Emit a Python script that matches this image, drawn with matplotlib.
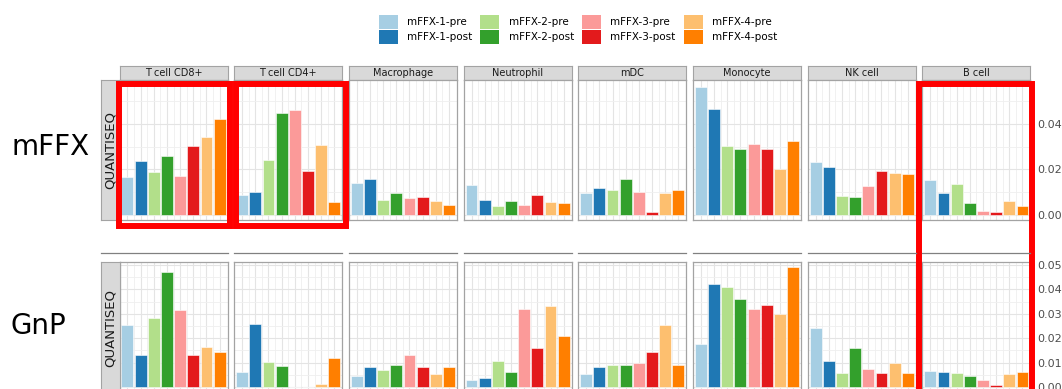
import numpy as np
import matplotlib
matplotlib.use("Agg")
import matplotlib.pyplot as plt
from matplotlib.patches import Rectangle, Patch
from matplotlib.lines import Line2D
from matplotlib.ticker import FormatStrFormatter

# Zelltypen und Gruppen
cell_types = ["T cell CD8+", "T cell CD4+", "Macrophage", "Neutrophil",
              "mDC", "Monocyte", "NK cell", "B cell"]
groups = ["mFFX-1-pre", "mFFX-1-post", "mFFX-2-pre", "mFFX-2-post",
          "mFFX-3-pre", "mFFX-3-post", "mFFX-4-pre", "mFFX-4-post"]
colors = ["#a6cee3", "#1f78b4", "#b2df8a", "#33a02c",
          "#fb9a99", "#e31a1c", "#fdbf6f", "#ff7f00"]

# QUANTISEQ-Anteile, eine Zeile pro Zelltyp (Reihenfolge wie groups)
mffx_values = [
    [0.0166, 0.0236, 0.0190, 0.0261, 0.0171, 0.0302, 0.0343, 0.0421],
    [0.0089, 0.0101, 0.0242, 0.0447, 0.0463, 0.0192, 0.0306, 0.0056],
    [0.0139, 0.0158, 0.0066, 0.0095, 0.0076, 0.0078, 0.0063, 0.0044],
    [0.0133, 0.0067, 0.0038, 0.0063, 0.0044, 0.0089, 0.0056, 0.0051],
    [0.0095, 0.0117, 0.0111, 0.0158, 0.0101, 0.0013, 0.0095, 0.0108],
    [0.0564, 0.0466, 0.0302, 0.0289, 0.0312, 0.0289, 0.0204, 0.0325],
    [0.0233, 0.0210, 0.0084, 0.0078, 0.0126, 0.0192, 0.0185, 0.0179],
    [0.0152, 0.0095, 0.0136, 0.0051, 0.0019, 0.0013, 0.0063, 0.0040],
]
gnp_values = [
    [0.0253, 0.0130, 0.0283, 0.0473, 0.0316, 0.0130, 0.0164, 0.0142],
    [0.0063, 0.0257, 0.0101, 0.0086, 0.0000, 0.0000, 0.0012, 0.0120],
    [0.0046, 0.0081, 0.0068, 0.0091, 0.0130, 0.0081, 0.0053, 0.0081],
    [0.0029, 0.0037, 0.0108, 0.0063, 0.0321, 0.0161, 0.0332, 0.0209],
    [0.0053, 0.0081, 0.0090, 0.0090, 0.0097, 0.0142, 0.0253, 0.0090],
    [0.0175, 0.0421, 0.0410, 0.0362, 0.0318, 0.0337, 0.0298, 0.0490],
    [0.0242, 0.0107, 0.0056, 0.0159, 0.0074, 0.0056, 0.0097, 0.0056],
    [0.0067, 0.0063, 0.0056, 0.0046, 0.0029, 0.0008, 0.0052, 0.0063],
]

W, H = 1062, 389
fig = plt.figure(figsize=(W / 100, H / 100), dpi=100)
fig.patch.set_facecolor("white")


def box(x0, y0, x1, y1):
    # Pixelkoordinaten (oben links) -> Figure-Anteile
    return [x0 / W, 1 - y1 / H, (x1 - x0) / W, (y1 - y0) / H]


border = "#a3a3a3"
strip_bg = "#d9d9d9"
pitch, pw = 114.7, 108.0
x_first = 119.5


def strip(rect, label, rotation=0, size=7):
    s = fig.add_axes(rect)
    s.set_facecolor(strip_bg)
    s.set_xticks([])
    s.set_yticks([])
    for sp in s.spines.values():
        sp.set_color(border)
        sp.set_linewidth(0.8)
    s.text(0.5, 0.5, label, ha="center", va="center", rotation=rotation,
           fontsize=size, color="#1a1a1a", transform=s.transAxes)
    return s


def panel(rect, vals, ylim, major, minor, last):
    ax = fig.add_axes(rect)
    x = np.arange(1, len(vals) + 1)
    ax.bar(x, vals, width=0.9, color=colors, edgecolor="white", linewidth=0.4)
    ax.set_xlim(0.4, 8.6)
    ax.set_ylim(*ylim)
    ax.set_xticks(x)
    ax.set_xticks(x[:-1] + 0.5, minor=True)
    ax.set_yticks(major)
    ax.set_yticks(minor, minor=True)
    ax.set_axisbelow(True)
    ax.grid(which="major", color="#e4e4e4", linewidth=0.8)
    ax.grid(which="minor", color="#efefef", linewidth=0.6)
    ax.tick_params(which="both", length=0, labelbottom=False, labelleft=False)
    for sp in ax.spines.values():
        sp.set_color(border)
        sp.set_linewidth(0.9)
    if last:
        ax.yaxis.tick_right()
        ax.yaxis.set_major_formatter(FormatStrFormatter("%.2f"))
        ax.tick_params(axis="y", which="major", length=3, width=0.7,
                       color="#333333", labelright=True, labelsize=8,
                       labelcolor="#4d4d4d", pad=2)
    return ax


# obere Reihe: mFFX
top_major = [0.0, 0.02, 0.04]
top_minor = [0.01, 0.03, 0.05]
for i, name in enumerate(cell_types):
    x0 = x_first + i * pitch
    strip(box(x0, 66, x0 + pw, 80), name)
    panel(box(x0, 80, x0 + pw, 220), mffx_values[i], (-0.0022, 0.0593),
          top_major, top_minor, i == len(cell_types) - 1)
strip(box(101, 80, x_first, 220), "QUANTISEQ", rotation=90, size=9.5)

# untere Reihe: GnP
bot_major = np.arange(0, 0.051, 0.01)
bot_minor = np.arange(0.005, 0.05, 0.01)
for i, name in enumerate(cell_types):
    x0 = x_first + i * pitch
    lx0 = 101 if i == 0 else x0
    fig.add_artist(Line2D([lx0 / W, (x0 + pw) / W], [1 - 253 / H] * 2,
                          color="#808080", linewidth=0.9))
    panel(box(x0, 262, x0 + pw, 393), gnp_values[i], (-0.0025, 0.0512),
          bot_major, bot_minor, i == len(cell_types) - 1)
strip(box(101, 262, x_first, 393), "QUANTISEQ", rotation=90, size=9.5)

# Zeilenbeschriftungen
fig.text(12 / W, 1 - 147 / H, "mFFX", fontsize=20, va="center", ha="left")
fig.text(10.5 / W, 1 - 326 / H, "GnP", fontsize=20, va="center", ha="left")

# Legende
handles = [Patch(facecolor=c, edgecolor="none") for c in colors]
fig.legend(handles, groups, ncol=4, loc="center",
           bbox_to_anchor=(578 / W, 1 - 29.5 / H), frameon=False,
           fontsize=7.5, handlelength=1.8, handleheight=1.6,
           labelspacing=0.15, handletextpad=0.9, columnspacing=0.8,
           borderpad=0)

# rote Markierungen
marks = [(119, 83.5, 229.5, 226), (236, 83.5, 346, 226), (919, 83.7, 1031.5, 420)]
for x0, y0, x1, y1 in marks:
    fig.add_artist(Rectangle((x0 / W, 1 - y1 / H), (x1 - x0) / W, (y1 - y0) / H,
                             transform=fig.transFigure, fill=False,
                             edgecolor="#ff0000", linewidth=4.3, clip_on=False))

fig.savefig("out.png", dpi=100)
